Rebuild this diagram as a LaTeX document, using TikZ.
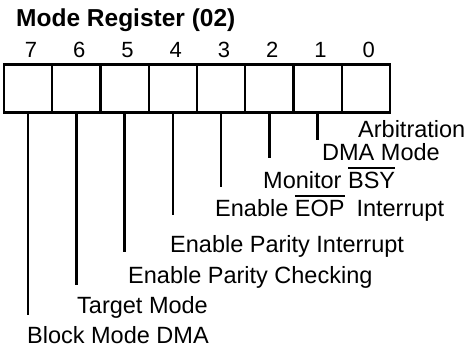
\documentclass[tikz,border=0pt]{standalone}
\usepackage{fontspec}
\setmainfont{Liberation Sans}
\newcommand\ovlbar[1]{\vbox{\hrule height 1.3pt\kern 3pt\hbox{#1}}}
\begin{document}
\begin{tikzpicture}[x=1pt,y=-1pt,
  cell/.style={draw, line width=2.3pt, minimum width=48.25pt, minimum height=48pt, inner sep=0pt},
  lead/.style={line width=2.5pt},
  lbl/.style={anchor=base west, inner sep=0pt, font=\fontsize{23.5}{27}\selectfont},
  digit/.style={anchor=base, inner sep=0pt, font=\fontsize{22}{25}\selectfont}]
\useasboundingbox (0,0) rectangle (468,348);
\node[anchor=base west, inner sep=0pt, font=\bfseries\fontsize{24.5}{28}\selectfont] (title) at (16,27) {Mode Register (02)};
\foreach \i in {0,...,7}{
  \node[cell] (c\i) at ({4+48.25*(7-\i)+24.125}, 88.5) {};
  \node[digit] (d\i) at ({4+48.25*(7-\i)+27}, 57) {\i};
}
\coordinate (e7) at (c7.south |- 0,315);
\coordinate (e6) at (c6.south |- 0,285);
\coordinate (e5) at (c5.south |- 0,252);
\coordinate (e4) at (c4.south |- 0,215);
\coordinate (e3) at (c3.south |- 0,187);
\coordinate (e2) at (c2.south |- 0,158);
\coordinate (e1) at (c1.south |- 0,140);
\foreach \i in {7,6,5,4,3,2,1}{
  \draw[lead] (c\i.south) -- (e\i);
}
\node[lbl] (l7) at (27,343) {Block Mode DMA};
\node[lbl] (l6) at (77,313) {Target Mode};
\node[lbl] (l5) at (128,283) {Enable Parity Checking};
\node[lbl] (l4) at (170,252) {Enable Parity Interrupt};
\node[lbl] (l3) at (215,216) {Enable \ovlbar{EOP}\hspace{12pt}Interrupt};
\node[lbl] (l2) at (263,188) {Monitor \ovlbar{BSY}};
\node[lbl] (l1) at (322,160) {DMA Mode};
\node[lbl] (l0) at (358,137) {Arbitration};
\end{tikzpicture}
\end{document}
